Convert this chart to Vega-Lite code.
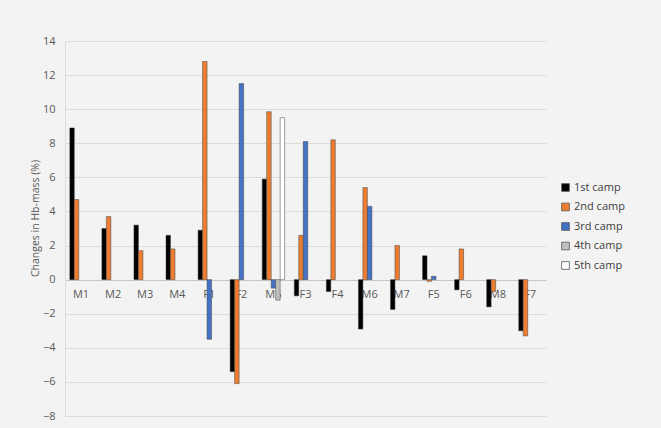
{
  "$schema": "https://vega.github.io/schema/vega-lite/v6.json",
  "width": 481,
  "height": 375,
  "autosize": {"type": "none"},
  "padding": {"left": 65, "top": 41, "right": 115, "bottom": 12},
  "background": "#f3f3f3",
  "config": {
    "view": {"stroke": null},
    "font": "Open Sans"
  },
  "data": {
    "values": [
      {"subject": "M1", "camp": "1st camp", "value": 8.9},
      {"subject": "M1", "camp": "2nd camp", "value": 4.7},
      {"subject": "M2", "camp": "1st camp", "value": 3.0},
      {"subject": "M2", "camp": "2nd camp", "value": 3.7},
      {"subject": "M3", "camp": "1st camp", "value": 3.2},
      {"subject": "M3", "camp": "2nd camp", "value": 1.7},
      {"subject": "M4", "camp": "1st camp", "value": 2.6},
      {"subject": "M4", "camp": "2nd camp", "value": 1.8},
      {"subject": "F1", "camp": "1st camp", "value": 2.9},
      {"subject": "F1", "camp": "2nd camp", "value": 12.8},
      {"subject": "F1", "camp": "3rd camp", "value": -3.5},
      {"subject": "F2", "camp": "1st camp", "value": -5.4},
      {"subject": "F2", "camp": "2nd camp", "value": -6.1},
      {"subject": "F2", "camp": "3rd camp", "value": 11.5},
      {"subject": "M5", "camp": "1st camp", "value": 5.9},
      {"subject": "M5", "camp": "2nd camp", "value": 9.85},
      {"subject": "M5", "camp": "3rd camp", "value": -0.5},
      {"subject": "M5", "camp": "4th camp", "value": -1.2},
      {"subject": "M5", "camp": "5th camp", "value": 9.5},
      {"subject": "F3", "camp": "1st camp", "value": -0.95},
      {"subject": "F3", "camp": "2nd camp", "value": 2.6},
      {"subject": "F3", "camp": "3rd camp", "value": 8.1},
      {"subject": "F4", "camp": "1st camp", "value": -0.7},
      {"subject": "F4", "camp": "2nd camp", "value": 8.2},
      {"subject": "M6", "camp": "1st camp", "value": -2.9},
      {"subject": "M6", "camp": "2nd camp", "value": 5.4},
      {"subject": "M6", "camp": "3rd camp", "value": 4.3},
      {"subject": "M7", "camp": "1st camp", "value": -1.75},
      {"subject": "M7", "camp": "2nd camp", "value": 2.0},
      {"subject": "F5", "camp": "1st camp", "value": 1.4},
      {"subject": "F5", "camp": "2nd camp", "value": -0.1},
      {"subject": "F5", "camp": "3rd camp", "value": 0.2},
      {"subject": "F6", "camp": "1st camp", "value": -0.6},
      {"subject": "F6", "camp": "2nd camp", "value": 1.8},
      {"subject": "M8", "camp": "1st camp", "value": -1.6},
      {"subject": "M8", "camp": "2nd camp", "value": -0.7},
      {"subject": "F7", "camp": "1st camp", "value": -3.0},
      {"subject": "F7", "camp": "2nd camp", "value": -3.3}
    ]
  },
  "mark": {"type": "bar", "stroke": "#404040", "strokeWidth": 0.5},
  "encoding": {
    "x": {
      "field": "subject",
      "type": "nominal",
      "sort": ["M1", "M2", "M3", "M4", "F1", "F2", "M5", "F3", "F4", "M6", "M7", "F5", "F6", "M8", "F7"],
      "scale": {"paddingInner": 0.3, "paddingOuter": 0.15},
      "axis": {
        "title": null,
        "orient": "bottom",
        "offset": -136,
        "labelAngle": 0,
        "ticks": false,
        "domainColor": "#c8c8c8",
        "labelColor": "#595959",
        "labelFontSize": 11,
        "labelPadding": 8
      }
    },
    "xOffset": {
      "field": "camp",
      "type": "nominal",
      "scale": {"domain": ["1st camp", "2nd camp", "3rd camp", "4th camp", "5th camp"], "paddingInner": 0, "paddingOuter": 0}
    },
    "y": {
      "field": "value",
      "type": "quantitative",
      "scale": {"domain": [-8, 14], "nice": false, "zero": false},
      "axis": {
        "title": "Changes in Hb-mass (%)",
        "values": [-8, -6, -4, -2, 0, 2, 4, 6, 8, 10, 12, 14],
        "ticks": false,
        "domainColor": "#dcdcdc",
        "gridColor": "#dcdcdc",
        "labelColor": "#595959",
        "labelFontSize": 11,
        "labelPadding": 10,
        "titleColor": "#595959",
        "titleFontSize": 10.5,
        "titleFontWeight": "normal",
        "titleX": -30,
        "titleY": 177,
        "titleAngle": -90,
        "titleAlign": "center",
        "titleBaseline": "middle"
      }
    },
    "fill": {
      "field": "camp",
      "type": "nominal",
      "scale": {
        "domain": ["1st camp", "2nd camp", "3rd camp", "4th camp", "5th camp"],
        "range": ["#000000", "#ed7d31", "#4472c4", "#bfbfbf", "#ffffff"]
      },
      "legend": {
        "title": null,
        "orient": "none",
        "legendX": 495,
        "legendY": 141,
        "symbolType": "square",
        "symbolSize": 60,
        "symbolStrokeColor": "#595959",
        "symbolStrokeWidth": 0.8,
        "labelColor": "#404040",
        "labelFontSize": 11,
        "rowPadding": 7.5,
        "labelOffset": 3
      }
    }
  }
}
